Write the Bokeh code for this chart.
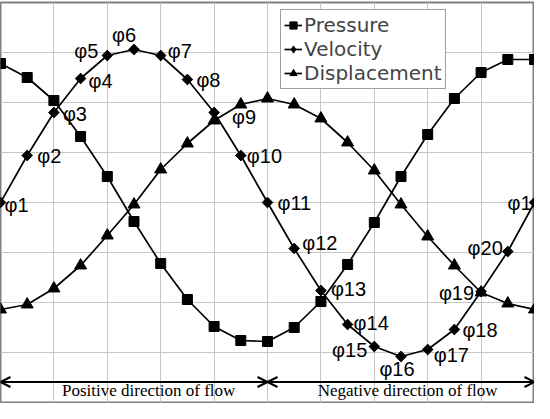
import numpy as np
from bokeh.plotting import figure
from bokeh.models import (Range1d, Grid, SingleIntervalTicker, ColumnDataSource,
                          Legend, LegendItem, Arrow, OpenHead, Label)
from bokeh.core.properties import value
from bokeh.embed import file_html
from bokeh.resources import INLINE

# ---- data (phase steps 0..20) ----
phase = [0, 1, 2, 3, 4, 5, 6, 7, 8, 9, 10, 11, 12, 13, 14, 15, 16, 17, 18, 19, 20]
pressure = [6.78, 6.50, 6.04, 5.32, 4.52, 3.62, 2.78, 2.06, 1.52, 1.24, 1.22,
            1.50, 2.02, 2.76, 3.60, 4.52, 5.36, 6.08, 6.60, 6.86, 6.86]
velocity = [4.00, 4.94, 5.80, 6.48, 6.94, 7.06, 6.94, 6.46, 5.80, 4.94, 4.00,
            3.08, 2.24, 1.56, 1.12, 0.92, 1.06, 1.46, 2.22, 3.02, 4.00]
displacement = [1.86, 1.96, 2.28, 2.74, 3.34, 3.96, 4.66, 5.18, 5.64, 5.96, 6.08,
                5.96, 5.68, 5.20, 4.64, 3.96, 3.32, 2.74, 2.20, 1.98, 1.86]
phase_labels = ["φ1", "φ2", "φ3", "φ4", "φ5", "φ6", "φ7", "φ8", "φ9", "φ10", "φ11",
                "φ12", "φ13", "φ14", "φ15", "φ16", "φ17", "φ18", "φ19", "φ20", "φ1"]
series_names = ["Pressure", "Velocity", "Displacement"]
flow_labels = ["Positive direction of flow", "Negative direction of flow"]

# label placement (pixel offsets from the velocity points, alignment)
lab_dx = [4, 10, 9, 8, -9, -10, 7, 9, 18, 6, 10, 8, 10, 6, -7, -4, 6, 8, -7, -5, -27]
lab_dy = [2, 0, 1, 2, -5, -15, -5, 0, 4, 0, 0, -6, -2, -2, 3, 12, 5, 0, 1, -4, 0]
lab_al = ["left", "left", "left", "left", "right", "center", "left", "left", "left",
          "left", "left", "left", "left", "left", "right", "center", "left", "left",
          "right", "right", "left"]

p = figure(width=534, height=403, x_range=Range1d(0, 20), y_range=Range1d(0, 8),
           x_axis_type=None, y_axis_type=None, output_backend="svg",
           toolbar_location=None, min_border_left=0, min_border_right=0,
           min_border_top=2, min_border_bottom=1)
p.background_fill_color = "white"
p.border_fill_color = "white"
p.outline_line_color = "#808080"
p.outline_line_width = 2

gx = Grid(dimension=0, ticker=SingleIntervalTicker(interval=2, num_minor_ticks=0),
          grid_line_color="#c6c6c6", grid_line_width=1)
gy = Grid(dimension=1, ticker=SingleIntervalTicker(interval=1, num_minor_ticks=0),
          grid_line_color="#c6c6c6", grid_line_width=1)
p.add_layout(gx)
p.add_layout(gy)

lw = 1.7
l1 = p.line(phase, pressure, line_color="black", line_width=lw)
s1 = p.scatter(phase, pressure, marker="square", size=10, fill_color="black", line_color="black")
l2 = p.line(phase, velocity, line_color="black", line_width=lw)
# diamond glyph (used for the legend), covered by rotated squares on the chart
s2_leg = p.scatter(phase, velocity, marker="diamond", size=10, fill_color="black", line_color="black")
s2 = p.scatter(phase, velocity, marker="square", angle=np.pi / 4, size=7.5,
               fill_color="black", line_color="black")
l3 = p.line(phase, displacement, line_color="black", line_width=lw)
s3 = p.scatter(phase, displacement, marker="triangle", size=12, fill_color="black", line_color="black")

src = ColumnDataSource(dict(x=phase, y=velocity, t=phase_labels, dx=lab_dx, dy=lab_dy, al=lab_al))
p.text(x="x", y="y", text="t", x_offset="dx", y_offset="dy", text_align="al",
       text_baseline="middle", text_font=value("Liberation Sans"),
       text_font_size="20px", text_color="black", source=src)

# flow direction arrows and texts
for xs, xe in [(0, 10), (10, 20)]:
    p.add_layout(Arrow(x_start=xs, x_end=xe, y_start=0.41, y_end=0.41,
                       start=OpenHead(size=10, line_width=2, line_color="black"),
                       end=OpenHead(size=10, line_width=2, line_color="black"),
                       line_width=2, line_color="black"))
p.add_layout(Label(x=5.55, y=0.25, text=flow_labels[0], text_align="center",
                   text_baseline="middle", text_font="Liberation Serif",
                   text_font_size="17px", text_color="black"))
p.add_layout(Label(x=15.25, y=0.25, text=flow_labels[1], text_align="center",
                   text_baseline="middle", text_font="Liberation Serif",
                   text_font_size="17px", text_color="black"))

legend = Legend(items=[LegendItem(label=series_names[0], renderers=[l1, s1]),
                       LegendItem(label=series_names[1], renderers=[l2, s2_leg]),
                       LegendItem(label=series_names[2], renderers=[l3, s3])],
                location=(280, 313), padding=3, spacing=0, margin=0,
                glyph_width=18, glyph_height=18, label_standoff=2,
                label_text_font="DejaVu Sans", label_text_font_size="20px",
                border_line_color="#404040", border_line_width=1,
                background_fill_color="white", background_fill_alpha=1.0)
p.add_layout(legend)

open("out.html", "w").write(file_html(p, INLINE))
